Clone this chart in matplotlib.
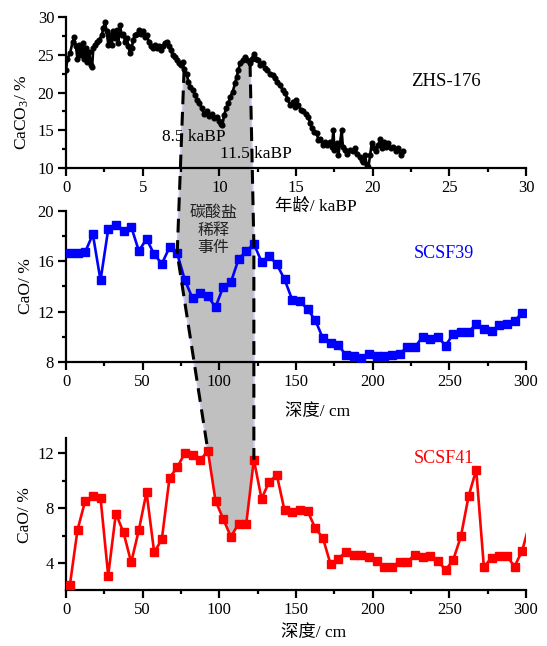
import numpy as np
import matplotlib
matplotlib.use("Agg")
import matplotlib.pyplot as plt
from matplotlib.patches import Polygon
from matplotlib.lines import Line2D
from matplotlib.ticker import MultipleLocator

plt.rcParams["font.family"] = ["Liberation Serif", "Noto Sans CJK SC"]
plt.rcParams["mathtext.fontset"] = "custom"
plt.rcParams["mathtext.rm"] = "Liberation Serif"
plt.rcParams["mathtext.it"] = "Liberation Serif:italic"

# ZHS-176: CaCO3 (%) against age (kaBP)
zhs_age = [
    0.00, 0.09, 0.26, 0.43, 0.52, 0.65, 0.74, 0.87, 0.96, 1.09, 1.17, 1.30,
    1.39, 1.52, 1.61, 1.70, 1.78, 1.89, 2.00, 2.17, 2.33, 2.43, 2.54, 2.65,
    2.76, 2.87, 2.98, 3.09, 3.20, 3.30, 3.41, 3.52, 3.63, 3.74, 3.85, 3.96,
    4.07, 4.17, 4.28, 4.39, 4.50, 4.65, 4.78, 4.91, 5.04, 5.17, 5.30, 5.39,
    5.52, 5.65, 5.78, 5.91, 6.04, 6.17, 6.30, 6.43, 6.57, 6.70, 6.83, 6.96,
    7.09, 7.22, 7.35, 7.48, 7.60, 7.70, 7.87, 7.98, 8.09, 8.26, 8.41, 8.57,
    8.70, 8.85, 9.00, 9.18, 9.35, 9.50, 9.65, 9.83, 10.00, 10.10, 10.20, 10.31,
    10.44, 10.59, 10.70, 10.87, 11.02, 11.13, 11.24, 11.35, 11.53, 11.68, 11.83, 12.00,
    12.11, 12.26, 12.39, 12.54, 12.65, 12.83, 12.98, 13.13, 13.31, 13.48, 13.63, 13.78,
    13.96, 14.13, 14.29, 14.44, 14.61, 14.79, 14.94, 15.00, 15.16, 15.31, 15.48, 15.66,
    15.81, 15.92, 16.03, 16.18, 16.35, 16.46, 16.57, 16.74, 16.89, 17.05, 17.22, 17.33,
    17.44, 17.50, 17.66, 17.76, 17.87, 17.98, 18.05, 18.20, 18.35, 18.53, 18.70, 18.85,
    19.00, 19.18, 19.29, 19.39, 19.50, 19.61, 19.72, 19.83, 19.94, 20.09, 20.22, 20.37,
    20.48, 20.61, 20.74, 20.87, 21.02, 21.18, 21.35, 21.53, 21.68, 21.83, 21.96,
]
zhs_caco3 = [
    23.0, 24.5, 25.2, 26.7, 27.3, 26.1, 24.5, 26.3, 25.0, 26.5, 24.5, 25.9,
    24.1, 25.4, 23.6, 23.4, 25.9, 26.3, 26.7, 27.0, 27.6, 28.5, 29.3, 28.1,
    26.3, 27.6, 26.3, 28.1, 27.2, 28.3, 26.5, 28.9, 27.6, 27.8, 26.7, 27.2,
    26.1, 25.2, 25.9, 27.0, 27.6, 27.8, 28.3, 27.8, 28.1, 27.4, 27.6, 26.7,
    26.1, 25.9, 26.3, 25.9, 26.1, 25.6, 26.1, 26.5, 26.7, 26.1, 25.6, 25.0,
    24.7, 24.3, 23.9, 23.6, 24.0, 23.1, 22.5, 21.4, 20.8, 20.3, 19.7, 19.0,
    18.6, 17.9, 17.2, 17.5, 16.9, 17.2, 16.6, 16.8, 16.2, 15.8, 15.7, 17.0,
    17.9, 18.6, 19.4, 20.1, 21.2, 22.1, 23.0, 23.9, 24.3, 24.7, 24.3, 23.9,
    24.5, 25.1, 24.5, 24.3, 23.6, 23.9, 23.2, 23.0, 22.5, 22.3, 21.9, 21.4,
    21.0, 20.3, 19.9, 19.2, 18.3, 18.8, 18.1, 19.0, 18.3, 17.7, 17.5, 17.2,
    16.8, 15.9, 15.3, 14.8, 14.6, 13.7, 13.9, 13.0, 13.5, 13.0, 13.5, 12.8,
    15.0, 12.4, 13.3, 11.7, 13.3, 15.0, 12.8, 12.4, 11.9, 12.4, 12.2, 12.6,
    11.9, 11.5, 11.1, 10.8, 11.7, 10.4, 10.1, 11.7, 13.3, 12.6, 12.2, 13.0,
    13.9, 12.6, 13.5, 12.8, 13.3, 12.6, 12.8, 12.2, 12.6, 11.7, 12.2,
]

# SCSF39: CaO (%) against depth (cm)
scsf39_depth = [
    2.5, 7.5, 12.5, 17.5, 22.5, 27.5, 32.5, 37.5, 42.5, 47.5,
    52.5, 57.5, 62.5, 67.5, 72.5, 77.5, 82.5, 87.5, 92.5, 97.5,
    102.5, 107.5, 112.5, 117.5, 122.5, 127.5, 132.5, 137.5, 142.5, 147.5,
    152.5, 157.5, 162.5, 167.5, 172.5, 177.5, 182.5, 187.5, 192.5, 197.5,
    202.5, 207.5, 212.5, 217.5, 222.5, 227.5, 232.5, 237.5, 242.5, 247.5,
    252.5, 257.5, 262.5, 267.5, 272.5, 277.5, 282.5, 287.5, 292.5, 297.5,
]
scsf39_cao = [
    16.62, 16.68, 16.73, 18.13, 14.48, 18.52, 18.84, 18.42, 18.73, 16.81,
    17.76, 16.54, 15.80, 17.10, 16.62, 14.51, 13.06, 13.48, 13.22, 12.37,
    13.96, 14.33, 16.15, 16.81, 17.36, 15.97, 16.41, 15.75, 14.57, 12.94,
    12.85, 12.19, 11.35, 9.90, 9.50, 9.37, 8.58, 8.52, 8.36, 8.63,
    8.50, 8.50, 8.58, 8.68, 9.18, 9.18, 10.02, 9.84, 10.02, 9.31,
    10.24, 10.42, 10.42, 11.00, 10.63, 10.47, 10.93, 11.00, 11.27, 11.93,
]

# SCSF41: CaO (%) against depth (cm)
scsf41_depth = [
    2.5, 7.5, 12.5, 17.5, 22.5, 27.5, 32.5, 37.5, 42.5, 47.5,
    52.5, 57.5, 62.5, 67.5, 72.5, 77.5, 82.5, 87.5, 92.5, 97.5,
    102.5, 107.5, 112.5, 117.5, 122.5, 127.5, 132.5, 137.5, 142.5, 147.5,
    152.5, 157.5, 162.5, 167.5, 172.5, 177.5, 182.5, 187.5, 192.5, 197.5,
    202.5, 207.5, 212.5, 217.5, 222.5, 227.5, 232.5, 237.5, 242.5, 247.5,
    252.5, 257.5, 262.5, 267.5, 272.5, 277.5, 282.5, 287.5, 292.5, 297.5,
    302.5,
]
scsf41_cao = [
    2.40, 6.42, 8.53, 8.85, 8.75, 3.10, 7.61, 6.23, 4.05, 6.42,
    9.16, 4.78, 5.75, 10.21, 10.96, 12.00, 11.88, 11.47, 12.19, 8.53,
    7.22, 5.92, 6.86, 6.84, 11.52, 8.68, 9.92, 10.40, 7.83, 7.74,
    7.85, 7.80, 6.55, 5.84, 3.93, 4.31, 4.82, 4.63, 4.63, 4.46,
    4.19, 3.71, 3.71, 4.12, 4.07, 4.63, 4.48, 4.53, 4.19, 3.49,
    4.24, 5.94, 8.85, 10.79, 3.71, 4.41, 4.55, 4.53, 3.75, 4.92,
    6.95,
]

# tie points of the carbonate dilution event in each record
tie_age = [7.7, 12.0]
tie_39 = [72.5, 122.5]
tie_41 = [92.5, 122.5]

TICK_FS = 12
LABEL_FS = 12.5


def style_axis(ax, xmaj, xmin, ymaj, ymin):
    ax.set_facecolor("none")
    for side in ("top", "right"):
        ax.spines[side].set_visible(False)
    for side in ("left", "bottom"):
        ax.spines[side].set_linewidth(1.6)
    ax.xaxis.set_major_locator(MultipleLocator(xmaj))
    ax.xaxis.set_minor_locator(MultipleLocator(xmin))
    ax.yaxis.set_major_locator(MultipleLocator(ymaj))
    ax.yaxis.set_minor_locator(MultipleLocator(ymin))
    ax.tick_params(which="major", direction="out", length=5.5, width=1.6,
                   labelsize=TICK_FS, pad=3)
    ax.tick_params(which="minor", direction="out", length=3, width=1.6)
    ax.tick_params(top=False, right=False, which="both")


fig = plt.figure(figsize=(5.47, 6.46), dpi=100)
ax1 = fig.add_axes([0.1207, 0.7399, 0.8410, 0.2337])
ax2 = fig.add_axes([0.1207, 0.4392, 0.8410, 0.2347])
ax3 = fig.add_axes([0.1207, 0.0867, 0.8410, 0.2353])

# top: ZHS-176
ax1.plot(zhs_age, zhs_caco3, color="black", lw=1.9, marker="o",
         markersize=3.4, zorder=3)
ax1.set_xlim(0, 30)
ax1.set_ylim(10, 30)
style_axis(ax1, 5, 2.5, 5, 2.5)
ax1.text(-0.095, 0.37, "CaCO$_3$/ %", transform=ax1.transAxes, rotation=90,
         ha="center", va="center", fontsize=LABEL_FS)
ax1.text(0.543, -0.255, "年龄/ kaBP", transform=ax1.transAxes,
         ha="center", va="center", fontsize=LABEL_FS)
ax1.text(24.75, 21.4, "ZHS-176", ha="center", va="center", fontsize=13.5)
ax1.text(8.35, 14.1, "8.5 kaBP", ha="center", va="center", fontsize=12.5)
ax1.text(12.4, 11.85, "11.5 kaBP", ha="center", va="center", fontsize=12.5)

# middle: SCSF39
ax2.plot(scsf39_depth, scsf39_cao, color="#0000ff", lw=1.9, marker="s",
         markersize=5.6, zorder=3)
ax2.set_xlim(0, 300)
ax2.set_ylim(8, 20)
style_axis(ax2, 50, 25, 4, 2)
ax2.text(-0.087, 0.5, "CaO/ %", transform=ax2.transAxes, rotation=90,
         ha="center", va="center", fontsize=LABEL_FS)
ax2.text(0.547, -0.328, "深度/ cm", transform=ax2.transAxes,
         ha="center", va="center", fontsize=LABEL_FS)
ax2.text(246.5, 16.57, "SCSF39", color="#0000ff", ha="center", va="center",
         fontsize=13)
ax2.text(96, 18.45, "碳酸盐\n稀释\n事件", ha="center", va="center",
         fontsize=11.5, linespacing=1.05, family=["Noto Sans CJK SC"],
         color="#222222")

# bottom: SCSF41 (last sample lies just beyond 300 cm, line only)
ax3.plot(scsf41_depth, scsf41_cao, color="#ff0000", lw=1.9, marker="s",
         markersize=5.6, markevery=slice(0, len(scsf41_depth) - 1), zorder=3)
ax3.set_xlim(0, 300)
ax3.set_ylim(2.05, 13.1)
style_axis(ax3, 50, 25, 4, 2)
ax3.text(-0.089, 0.49, "CaO/ %", transform=ax3.transAxes, rotation=90,
         ha="center", va="center", fontsize=LABEL_FS)
ax3.text(0.539, -0.283, "深度/ cm", transform=ax3.transAxes,
         ha="center", va="center", fontsize=LABEL_FS)
ax3.text(246.4, 11.64, "SCSF41", color="#ff0000", ha="center", va="center",
         fontsize=13)


# gray band linking the three records, built in figure coordinates
def to_fig(ax, xs, ys):
    disp = ax.transData.transform(np.column_stack([xs, ys]))
    return fig.transFigure.inverted().transform(disp)


age = np.array(zhs_age)
caco3 = np.array(zhs_caco3)
d41 = np.array(scsf41_depth)
c41 = np.array(scsf41_cao)

top_y = np.interp(tie_age, age, caco3)
mid_y = np.interp(tie_39, scsf39_depth, scsf39_cao)
bot_y = np.interp(tie_41, d41, c41)

inner = (age > tie_age[0]) & (age < tie_age[1])
top_x = np.concatenate([[tie_age[0]], age[inner], [tie_age[1]]])
top_v = np.concatenate([[top_y[0]], caco3[inner], [top_y[1]]])
low = (d41 >= tie_41[0]) & (d41 <= tie_41[1])

verts = np.vstack([
    to_fig(ax1, top_x, top_v),
    to_fig(ax2, [tie_39[1]], [mid_y[1]]),
    to_fig(ax3, d41[low][::-1], c41[low][::-1]),
    to_fig(ax2, [tie_39[0]], [mid_y[0]]),
])
band = Polygon(verts, closed=True, transform=fig.transFigure,
               facecolor="#c0c0c0", edgecolor="#c8c8f4", lw=1.2, zorder=-1)
fig.add_artist(band)

for i in range(2):
    pts = np.vstack([
        to_fig(ax1, [tie_age[i]], [top_y[i]]),
        to_fig(ax2, [tie_39[i]], [mid_y[i]]),
        to_fig(ax3, [tie_41[i]], [bot_y[i]]),
    ])
    fig.add_artist(Line2D(pts[:, 0], pts[:, 1], transform=fig.transFigure,
                          color="black", lw=2.2, linestyle=(0, (4.5, 2.5)),
                          zorder=5))

fig.savefig("out.png", dpi=100)
